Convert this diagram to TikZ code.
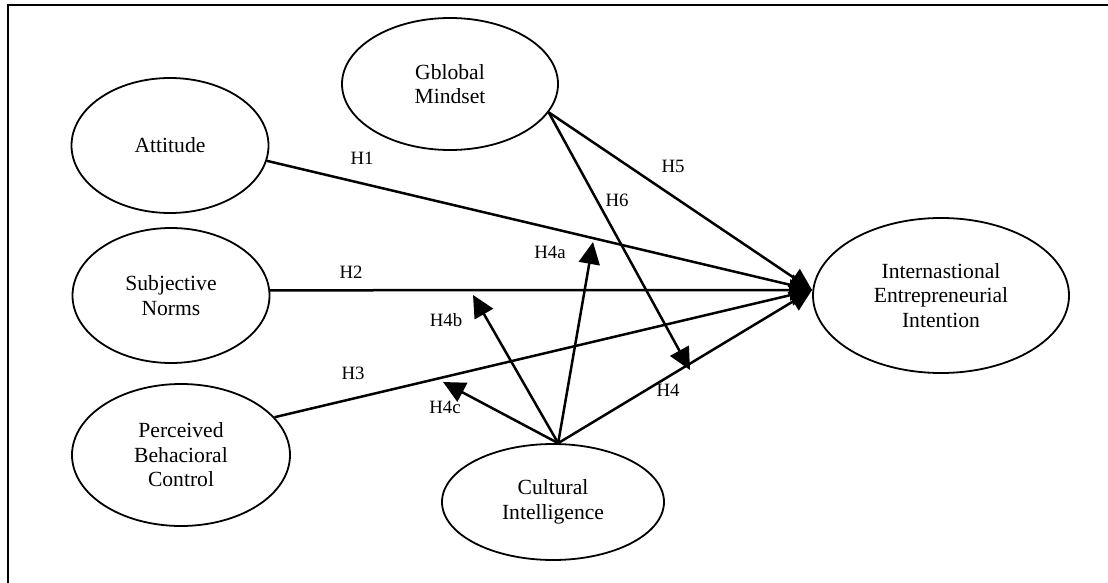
\documentclass[tikz,border=0pt]{standalone}
\usepackage{fontspec}
\setmainfont{Liberation Serif}
\usetikzlibrary{shapes.geometric,arrows.meta}
\begin{document}
\begin{tikzpicture}[x=1pt,y=-1pt,
  construct/.style={draw,line width=1.8pt,ellipse,inner sep=0pt,align=center,
    font=\fontsize{21.6}{24.5}\selectfont},
  arr/.style={line width=2.5pt,-{Triangle[length=22pt,width=21pt]}},
  hyp/.style={font=\fontsize{18.8}{22}\selectfont,inner sep=0pt}]
\useasboundingbox (0,0) rectangle (1108,583);
\draw[line width=2.2pt] (8,583) -- (8,5) -- (1108,5);
\node[construct,minimum width=197pt,minimum height=135pt] (att) at (170,145.5) {Attitude};
\node[construct,minimum width=197pt,minimum height=135pt] (sn) at (171,295.5) {Subjective\\Norms};
\node[construct,minimum width=218pt,minimum height=142pt] (pbc) at (181,455) {Perceived\\Behacioral\\Control};
\node[construct,minimum width=216pt,minimum height=132pt] (gm) at (450,84) {Gblobal\\Mindset};
\node[construct,minimum width=222pt,minimum height=116pt] (ci) at (553,502) {Cultural\\Intelligence};
\node[construct,minimum width=256pt,minimum height=155pt] (iei) at (941,295.5) {Internastional\\Entrepreneurial\\Intention};
\coordinate (tip) at (812,290);
\coordinate (t4a) at (593,242);
\coordinate (t4b) at (473,295);
\coordinate (t4c) at (443,382);
\coordinate (t6) at (690,370);
\draw[arr] (att.-9.5) -- (tip);
\draw[arr] (sn.3.2) -- (tip);
\draw[arr] (pbc.22.6) -- (tip);
\draw[arr] (gm.-16.2) -- (tip);
\draw[arr] (gm.-16.2) -- (t6);
\draw[arr] (ci.85) -- (tip);
\draw[arr] (ci.85) -- (t4a);
\draw[arr] (ci.85) -- (t4b);
\draw[arr] (ci.85) -- (t4c);
\node[hyp] (l1) at (362,158) {H1};
\node[hyp] (l2) at (351,272) {H2};
\node[hyp] (l3) at (353,373) {H3};
\node[hyp] (l5) at (673,166) {H5};
\node[hyp] (l6) at (617,200) {H6};
\node[hyp] (l4a) at (550,252) {H4a};
\node[hyp] (l4b) at (446,320) {H4b};
\node[hyp] (l4c) at (445,407) {H4c};
\node[hyp] (l4) at (668,390) {H4};
\end{tikzpicture}
\end{document}
